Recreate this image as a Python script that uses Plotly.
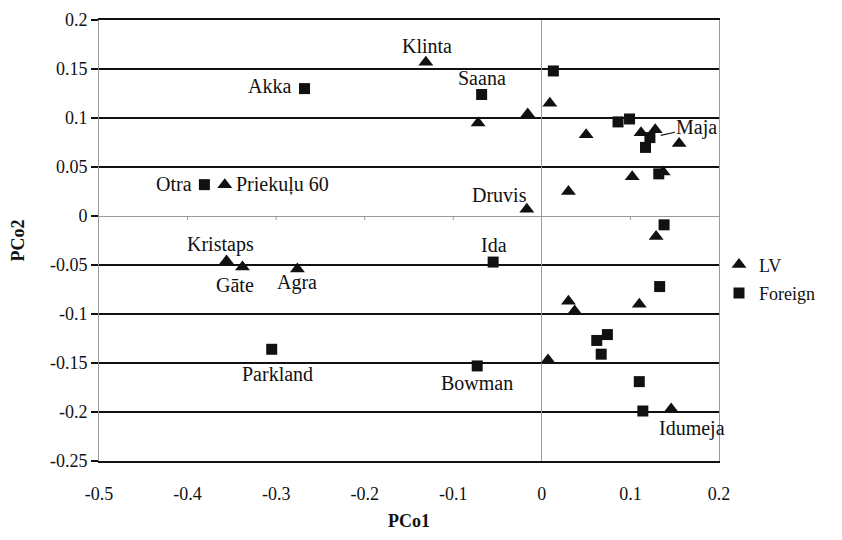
import plotly.graph_objects as go

# ---------------- data ----------------
lv_x = [-0.131, -0.072, -0.016, 0.009, -0.358, -0.017, 0.050, 0.112, 0.128, 0.155,
        0.102, 0.137, 0.030, 0.129, -0.356, -0.338, -0.276, 0.030, 0.037, 0.110,
        0.007, 0.146]
lv_y = [0.157, 0.095, 0.104, 0.115, 0.032, 0.007, 0.083, 0.085, 0.088, 0.074,
        0.040, 0.045, 0.025, -0.021, -0.046, -0.052, -0.054, -0.087, -0.097, -0.090,
        -0.147, -0.197]
lv_names = ["Klinta", "", "", "", "Priekuļu 60", "Druvis", "", "", "", "",
            "", "", "", "", "Kristaps", "Gāte", "Agra", "", "", "",
            "", "Idumeja"]

fr_x = [-0.268, -0.068, -0.381, 0.013, 0.086, 0.099, 0.122, 0.117, 0.132, 0.138,
        -0.055, 0.133, 0.074, 0.062, 0.067, -0.305, -0.073, 0.110, 0.114]
fr_y = [0.130, 0.124, 0.032, 0.148, 0.096, 0.099, 0.080, 0.070, 0.043, -0.009,
        -0.047, -0.072, -0.121, -0.127, -0.141, -0.136, -0.153, -0.169, -0.199]
fr_names = ["Akka", "Saana", "Otra", "", "", "", "Maja", "", "", "",
            "Ida", "", "", "", "", "Parkland", "Bowman", "", ""]

x_ticks = [-0.5, -0.4, -0.3, -0.2, -0.1, 0.0, 0.1, 0.2]
x_tick_labels = ["-0.5", "-0.4", "-0.3", "-0.2", "-0.1", "0", "0.1", "0.2"]
y_ticks = [0.2, 0.15, 0.1, 0.05, 0.0, -0.05, -0.1, -0.15, -0.2, -0.25]
y_tick_labels = ["0.2", "0.15", "0.1", "0.05", "0", "-0.05", "-0.1", "-0.15", "-0.2", "-0.25"]

series_names = ["LV", "Foreign"]
x_title = "PCo1"
y_title = "PCo2"

# ---------------- styling ----------------
FONT = "Liberation Serif"
INK = "#111111"
GRAY = "#9a9a9a"

# label placement (pixel offsets of the text centre from its point)
label_style = {
    "Klinta":      dict(xanchor="center", xshift=1,   yshift=16),
    "Akka":        dict(xanchor="right",  xshift=-11, yshift=3),
    "Saana":       dict(xanchor="center", xshift=0,   yshift=16),
    "Otra":        dict(xanchor="right",  xshift=-10, yshift=1),
    "Priekuļu 60": dict(xanchor="left",   xshift=9,   yshift=0),
    "Druvis":      dict(xanchor="center", xshift=-27, yshift=14),
    "Kristaps":    dict(xanchor="center", xshift=-6,  yshift=17),
    "Gāte":        dict(xanchor="center", xshift=-7,  yshift=-18),
    "Agra":        dict(xanchor="center", xshift=0,   yshift=-14),
    "Ida":         dict(xanchor="center", xshift=1,   yshift=17),
    "Parkland":    dict(xanchor="center", xshift=6,   yshift=-25),
    "Bowman":      dict(xanchor="center", xshift=0,   yshift=-17),
    "Idumeja":     dict(xanchor="center", xshift=21,  yshift=-19),
}
callouts = {"Maja": dict(ax=47, ay=-10, standoff=11)}

fig = go.Figure()
fig.add_trace(go.Scatter(
    x=lv_x, y=lv_y, mode="markers", name=series_names[0], legendgroup="a",
    marker=dict(symbol="triangle-up", size=13, color=INK, line=dict(width=0)),
    hoverinfo="skip"))
fig.add_trace(go.Scatter(
    x=fr_x, y=fr_y, mode="markers", name=series_names[1], legendgroup="b",
    marker=dict(symbol="square", size=11, color=INK, line=dict(width=0)),
    hoverinfo="skip"))

annotations = []
for xs, ys, names in ((lv_x, lv_y, lv_names), (fr_x, fr_y, fr_names)):
    for xv, yv, nm in zip(xs, ys, names):
        if not nm:
            continue
        if nm in callouts:
            c = callouts[nm]
            annotations.append(dict(
                x=xv, y=yv, xref="x", yref="y", text=nm, showarrow=True,
                arrowhead=0, arrowwidth=1.2, arrowcolor=INK,
                ax=c["ax"], ay=c["ay"], standoff=c["standoff"],
                font=dict(family=FONT, size=20, color=INK)))
        else:
            s = label_style[nm]
            annotations.append(dict(
                x=xv, y=yv, xref="x", yref="y", text=nm, showarrow=False,
                xanchor=s["xanchor"], yanchor="middle",
                xshift=s["xshift"], yshift=s["yshift"],
                font=dict(family=FONT, size=20, color=INK)))

# small tick marks on the y = 0 axis line
shapes = []
for tx in x_ticks[1:-1]:
    if tx == 0:
        continue
    shapes.append(dict(type="line", xref="x", yref="y", x0=tx, x1=tx,
                       ysizemode="pixel", yanchor=0, y0=0, y1=-4,
                       line=dict(color=GRAY, width=1)))

fig.update_layout(
    width=842, height=540,
    margin=dict(l=91, r=131, t=12, b=87, autoexpand=False),
    paper_bgcolor="white", plot_bgcolor="white",
    font=dict(family=FONT, size=18, color=INK),
    showlegend=True,
    legend=dict(x=1.0, y=0.413, xanchor="left", yanchor="middle",
                font=dict(family=FONT, size=18, color=INK),
                itemwidth=30, tracegroupgap=2, bgcolor="rgba(0,0,0,0)"),
    annotations=annotations,
    shapes=shapes,
)
fig.update_xaxes(
    range=[-0.5, 0.2], tickmode="array", tickvals=x_ticks, ticktext=x_tick_labels,
    automargin=False, ticklabeloverflow="allow",
    showgrid=False, zeroline=True, zerolinecolor=GRAY, zerolinewidth=1,
    showline=True, mirror=True, linecolor=INK, linewidth=1.5,
    ticks="", ticklabelstandoff=16,
    tickfont=dict(family=FONT, size=18, color=INK),
    title=dict(text="<b>" + x_title + "</b>", font=dict(family=FONT, size=18, color=INK),
               standoff=11),
)
fig.update_yaxes(
    range=[-0.25, 0.2], tickmode="array", tickvals=y_ticks, ticktext=y_tick_labels,
    automargin=False, ticklabeloverflow="allow",
    showgrid=True, gridcolor=INK, gridwidth=1.5,
    zeroline=True, zerolinecolor=GRAY, zerolinewidth=1,
    showline=True, mirror=True, linecolor=GRAY, linewidth=1,
    ticks="outside", ticklen=7, tickcolor=INK, tickwidth=1.5,
    tickfont=dict(family=FONT, size=18, color=INK),
    title=dict(text="<b>" + y_title + "</b>", font=dict(family=FONT, size=18, color=INK),
               standoff=22),
)

fig.write_html("out.html")
